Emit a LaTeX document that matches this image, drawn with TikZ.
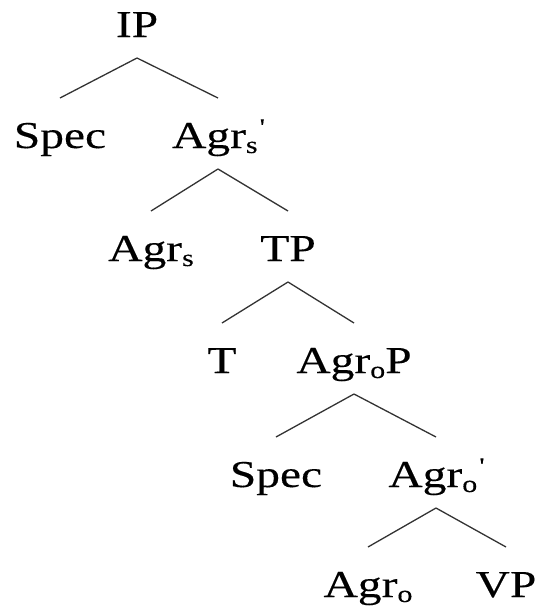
\documentclass[tikz,border=0pt]{standalone}
\usepackage{fontspec}
\setmainfont[FakeStretch=1.25, FakeBold=0.3]{Liberation Serif}
\newcommand\lowsub[1]{\raisebox{-5pt}{\fontsize{24}{24}\selectfont #1}}
\newcommand\primemark{\raisebox{13pt}{\fontsize{24}{24}\selectfont\kern2pt\textquotesingle}}
\begin{document}
\begin{tikzpicture}[x=1pt, y=-1pt,
        every node/.style={anchor=base, inner sep=0pt, outer sep=0pt,
            text height=50pt, text depth=21pt, font=\fontsize{38}{44}\selectfont},
        branch/.style={line width=1.3pt, black!80}]
    \useasboundingbox (0,0) rectangle (538,606);

            \node (IP) at (137, 37){IP};
                \node (specA) at (60, 148){Spec};
                \node (agrsbar) at (218, 148){Agr\lowsub{s}\primemark};

            %%branch
            \draw[branch] (IP.south) to (specA.north);
            \draw[branch] (IP.south) to (agrsbar.north);

                \node (agrs) at (151, 261){Agr\lowsub{s}};
                \node (TP) at (288, 261){TP};

            %%branch
            \draw[branch] (agrsbar.south) to (agrs.north);
            \draw[branch] (agrsbar.south) to (TP.north);

                \node (T) at (222, 373){T};
                \node (agroP) at (354, 373){Agr\lowsub{o}P};

            %%branch
            \draw[branch] (TP.south) to (T.north);
            \draw[branch] (TP.south) to (agroP.north);

                \node (specB) at (276, 487){Spec};
                \node (agrobar) at (436, 487){Agr\lowsub{o}\primemark};

            %%branch
            \draw[branch] (agroP.south) to (specB.north);
            \draw[branch] (agroP.south) to (agrobar.north);

                \node (agro) at (368, 597){Agr\lowsub{o}};
                \node (VP) at (506, 597){VP};

            %%branch
            \draw[branch] (agrobar.south) to (agro.north);
            \draw[branch] (agrobar.south) to (VP.north);

\end{tikzpicture}
\end{document}
